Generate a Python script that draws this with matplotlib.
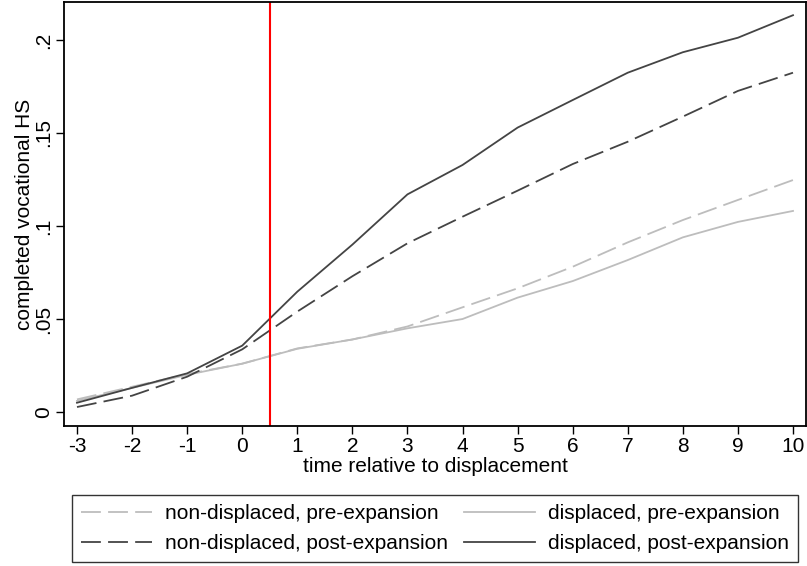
import numpy as np
import matplotlib.pyplot as plt
from matplotlib.ticker import FixedLocator

plt.rcParams['font.family'] = ['Liberation Sans', 'DejaVu Sans']

# time relative to displacement
t = [-3, -2, -1, 0, 1, 2, 3, 4, 5, 6, 7, 8, 9, 10]

nondisp_pre = [0.0068, 0.0136, 0.0204, 0.026, 0.0342, 0.039, 0.046, 0.0563,
               0.0665, 0.0781, 0.0912, 0.1032, 0.114, 0.1247]
disp_pre = [0.006, 0.013, 0.020, 0.026, 0.034, 0.039, 0.045, 0.050,
            0.0615, 0.0704, 0.0817, 0.0939, 0.1022, 0.1081]
nondisp_post = [0.0027, 0.0088, 0.019, 0.0337, 0.054, 0.073, 0.0907, 0.105,
                0.119, 0.1333, 0.1453, 0.1588, 0.1726, 0.1824]
disp_post = [0.005, 0.013, 0.0208, 0.0357, 0.0647, 0.090, 0.117, 0.1328,
             0.1529, 0.1677, 0.1824, 0.1934, 0.2012, 0.2133]

yticks = [0, 0.05, 0.1, 0.15, 0.2]
ytick_labels = ['0', '.05', '.1', '.15', '.2']
event_line = 0.5

light = '#bdbdbd'
dark = '#444444'
dash = (0, (11, 4))
fs = 15

fig = plt.figure(figsize=(8.07, 5.66), dpi=100)
ax = fig.add_axes([64/807, 1 - 426/566, 742/807, 424/566])

l1, = ax.plot(t, nondisp_pre, color=light, lw=1.3, linestyle=dash)
l2, = ax.plot(t, disp_pre, color=light, lw=1.3)
l3, = ax.plot(t, nondisp_post, color=dark, lw=1.3, linestyle=dash)
l4, = ax.plot(t, disp_post, color=dark, lw=1.3)
ax.axvline(event_line, color='red', lw=1.5)

ax.set_xlim(-3.236, 10.236)
ax.set_ylim(-0.0075, 0.2204)
ax.set_xticks(t)
ax.set_xticklabels([str(v) for v in t])
ax.yaxis.set_major_locator(FixedLocator(yticks))
ax.set_yticklabels(ytick_labels, rotation=90, va='center')

for s in ax.spines.values():
    s.set_linewidth(1.3)
ax.tick_params(direction='out', length=6, width=1, labelsize=fs, pad=2)
ax.set_xlabel('time relative to displacement', fontsize=fs, labelpad=1)
ax.set_ylabel('completed vocational HS', fontsize=fs, labelpad=0)

leg = fig.legend([l1, l3, l2, l4],
                 ['non-displaced, pre-expansion', 'non-displaced, post-expansion',
                  'displaced, pre-expansion', 'displaced, post-expansion'],
                 ncol=2, loc='upper left', mode='expand',
                 bbox_to_anchor=(72/807, 1 - 495/566, 726/807, 0.0),
                 fontsize=fs, handlelength=3.4, handletextpad=0.6,
                 columnspacing=1.2, labelspacing=0.5, borderpad=0.45,
                 borderaxespad=0, fancybox=False, framealpha=1,
                 edgecolor='#333333')
leg.get_frame().set_linewidth(1)

fig.savefig('out.png', dpi=100)
